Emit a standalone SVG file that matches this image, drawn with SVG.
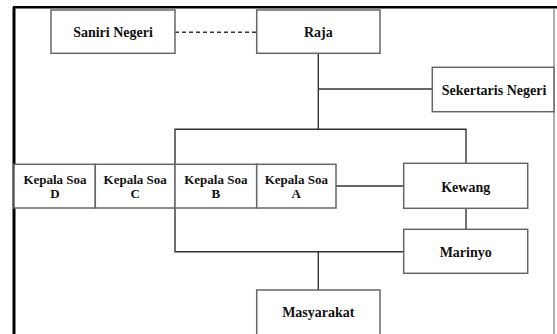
<svg xmlns="http://www.w3.org/2000/svg" width="557" height="334" viewBox="0 0 557 334">
<style>
.box{fill:#fff;stroke:#666;stroke-width:1.5}
.ln{fill:none;stroke:#333;stroke-width:1.4}
text{font-family:'Liberation Serif','DejaVu Serif',serif;font-weight:700;font-size:14px;fill:#111;text-anchor:middle}
.s{font-size:13px}
</style>
<rect width="557" height="334" fill="#fff"/>
<g id="frame">
<line x1="14" y1="7" x2="14" y2="334" stroke="#000" stroke-width="3"/>
<line x1="13" y1="7.3" x2="557" y2="7.3" stroke="#000" stroke-width="2.5"/>
<line x1="554" y1="8" x2="554" y2="334" stroke="#777" stroke-width="1.2"/>
</g>
<g id="connectors">
<line class="ln" x1="175" y1="32.3" x2="257" y2="32.3" stroke-dasharray="4,3"/>
<line class="ln" x1="318.3" y1="53.3" x2="318.3" y2="129.3"/>
<line class="ln" x1="318.3" y1="89" x2="432.3" y2="89"/>
<polyline class="ln" points="175,164 175,129.3 466,129.3 466,163.3"/>
<line class="ln" x1="336" y1="186" x2="403.7" y2="186"/>
<line class="ln" x1="466" y1="208.3" x2="466" y2="229.3"/>
<polyline class="ln" points="175,208 175,251.7 403.7,251.7"/>
<line class="ln" x1="318.3" y1="251.7" x2="318.3" y2="290"/>
</g>
<g id="saniri-negeri"><rect class="box" x="51" y="10" width="124" height="43.3"/><text font-family="Liberation Serif" x="113" y="37">Saniri Negeri</text></g>
<g id="raja"><rect class="box" x="256.7" y="10" width="123.3" height="43.3"/><text font-family="Liberation Serif" x="318.3" y="37">Raja</text></g>
<g id="sekertaris-negeri"><rect class="box" x="432.3" y="67.3" width="121.7" height="44.4"/><text font-family="Liberation Serif" x="494" y="95">Sekertaris Negeri</text></g>
<g id="kepala-soa-d"><rect class="box" x="14" y="164.3" width="81.3" height="43.7"/><text class="s" x="55" y="184.3">Kepala Soa</text><text class="s" x="55" y="198">D</text></g>
<g id="kepala-soa-c"><rect class="box" x="95.3" y="164.3" width="79.7" height="43.7"/><text class="s" x="135.2" y="184.3">Kepala Soa</text><text class="s" x="135.2" y="198">C</text></g>
<g id="kepala-soa-b"><rect class="box" x="175" y="164.3" width="81.7" height="43.7"/><text class="s" x="215.8" y="184.3">Kepala Soa</text><text class="s" x="215.8" y="198">B</text></g>
<g id="kepala-soa-a"><rect class="box" x="256.7" y="164.3" width="79.3" height="43.7"/><text class="s" x="296.3" y="184.3">Kepala Soa</text><text class="s" x="296.3" y="198">A</text></g>
<g id="kewang"><rect class="box" x="403.7" y="163.3" width="124" height="45"/><text x="465.7" y="191.7">Kewang</text></g>
<g id="marinyo"><rect class="box" x="403.7" y="229.3" width="124" height="44"/><text x="465.7" y="256.7">Marinyo</text></g>
<g id="masyarakat"><rect class="box" x="256.7" y="290" width="123.3" height="60"/><text x="318.3" y="317.3">Masyarakat</text></g>
</svg>
